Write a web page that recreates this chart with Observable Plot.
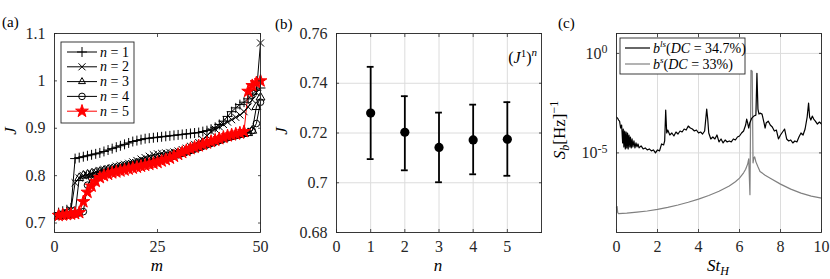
<!DOCTYPE html>
<html><head><meta charset="utf-8">
<script src="https://cdn.jsdelivr.net/npm/d3@7"></script>
<script src="https://cdn.jsdelivr.net/npm/@observablehq/plot@0.6"></script>
<style>
body{margin:0;background:#fff}
#wrap{position:relative;width:830px;height:279px;overflow:hidden;background:#fff;font-family:"Liberation Serif","DejaVu Serif",serif}
.panel{position:absolute;top:0}
#overlay{position:absolute;left:0;top:0;pointer-events:none}
</style></head><body><div id="wrap"></div>
<script>
// ---------- Panel (a) data ----------
const mIndex = d3.range(1, 51);
const J_n1 = [0.722,0.725,0.728,0.732,0.836,0.838,0.840,0.842,0.844,0.846,0.848,0.851,0.854,0.857,0.860,0.863,0.866,0.869,0.872,0.874,0.876,0.878,0.879,0.880,0.881,0.882,0.883,0.884,0.885,0.886,0.887,0.888,0.889,0.890,0.891,0.893,0.895,0.898,0.902,0.908,0.915,0.925,0.935,0.943,0.950,0.955,0.962,0.972,0.980,0.985];
const J_n2 = [0.716,0.718,0.720,0.728,0.785,0.795,0.800,0.802,0.805,0.808,0.811,0.813,0.815,0.817,0.820,0.822,0.824,0.826,0.829,0.832,0.835,0.838,0.841,0.844,0.846,0.847,0.848,0.849,0.850,0.852,0.855,0.858,0.862,0.866,0.870,0.876,0.884,0.893,0.898,0.903,0.908,0.913,0.918,0.923,0.928,0.935,0.945,0.960,0.975,1.080];
const J_n3 = [0.714,0.715,0.716,0.718,0.720,0.795,0.800,0.802,0.804,0.806,0.808,0.810,0.812,0.814,0.816,0.818,0.820,0.822,0.824,0.826,0.828,0.830,0.832,0.834,0.836,0.838,0.840,0.842,0.844,0.846,0.848,0.851,0.854,0.857,0.860,0.863,0.866,0.869,0.872,0.875,0.878,0.880,0.882,0.884,0.886,0.888,0.890,0.895,0.945,0.965];
const J_n4 = [0.716,0.717,0.718,0.719,0.720,0.722,0.724,0.780,0.795,0.800,0.803,0.806,0.808,0.810,0.812,0.814,0.816,0.818,0.820,0.822,0.824,0.826,0.828,0.830,0.832,0.834,0.836,0.838,0.841,0.844,0.847,0.850,0.853,0.856,0.859,0.862,0.865,0.868,0.871,0.874,0.877,0.880,0.883,0.885,0.887,0.889,0.891,0.895,0.910,0.955];
const J_n5 = [0.716,0.717,0.718,0.719,0.720,0.722,0.745,0.765,0.778,0.788,0.796,0.800,0.803,0.806,0.808,0.810,0.812,0.814,0.816,0.818,0.820,0.822,0.824,0.826,0.828,0.831,0.834,0.837,0.841,0.845,0.849,0.853,0.857,0.860,0.863,0.866,0.869,0.872,0.875,0.878,0.881,0.884,0.886,0.888,0.890,0.893,0.978,0.990,0.996,1.000];
const seriesA = [J_n1, J_n2, J_n3, J_n4, J_n5];
const seriesNames = ["1","2","3","4","5"];
const symbolsA = ["plus","times","triangle","circle","star"];
const colorsA = ["#000","#000","#000","#000","#ff0000"];
const xTicksA = [0, 25, 50];
const yTicksA = [0.7, 0.8, 0.9, 1, 1.1];

// ---------- Panel (b) data ----------
const nVals = [1, 2, 3, 4, 5];
const Jmean = [0.7280, 0.7203, 0.7142, 0.7172, 0.7175];
const Jhi   = [0.7466, 0.7348, 0.7282, 0.7314, 0.7324];
const Jlo   = [0.7095, 0.7050, 0.7002, 0.7034, 0.7028];
const xTicksB = [0, 1, 2, 3, 4, 5];
const yTicksB = [0.68, 0.70, 0.72, 0.74, 0.76];

// ---------- Panel (c) data (log10 of S_b) ----------
const St_ls = [0.00,0.05,0.10,0.15,0.20,0.25,0.30,0.33,0.36,0.40,0.43,0.47,0.50,0.54,0.57,0.61,0.65,0.68,0.72,0.76,0.80,0.85,0.90,0.95,1.00,1.05,1.10,1.20,1.30,1.40,1.50,1.60,1.70,1.80,1.90,2.00,2.10,2.20,2.30,2.35,2.40,2.45,2.50,2.60,2.70,2.80,2.90,3.00,3.10,3.20,3.30,3.40,3.50,3.60,3.70,3.80,3.90,4.00,4.10,4.20,4.30,4.40,4.45,4.50,4.60,4.70,4.80,4.90,5.00,5.10,5.20,5.30,5.40,5.50,5.60,5.70,5.80,5.90,6.00,6.10,6.20,6.30,6.35,6.40,6.45,6.50,6.60,6.70,6.80,6.85,6.90,6.95,7.00,7.10,7.20,7.25,7.30,7.40,7.50,7.60,7.70,7.80,7.90,8.00,8.10,8.20,8.30,8.40,8.50,8.60,8.70,8.80,8.90,9.00,9.10,9.20,9.30,9.37,9.42,9.48,9.55,9.62,9.70,9.80,9.90,10.0];
const logS_ls = [-3.2,-3.25,-3.35,-3.4,-3.75,-3.6,-4.5,-3.8,-4.7,-3.9,-4.8,-3.95,-4.75,-4.0,-4.8,-4.1,-4.7,-4.2,-4.75,-4.3,-4.7,-4.4,-4.75,-4.5,-4.7,-4.55,-4.75,-4.65,-4.8,-4.75,-4.85,-4.8,-4.9,-4.85,-5.0,-4.85,-4.9,-4.55,-4.6,-4.4,-2.85,-4.0,-3.85,-4.1,-4.0,-4.15,-3.95,-4.05,-3.9,-3.95,-3.8,-3.85,-3.65,-3.75,-3.8,-3.9,-3.85,-4.0,-3.95,-4.05,-3.9,-2.8,-3.3,-4.0,-4.3,-4.2,-4.3,-4.1,-4.45,-4.3,-4.5,-4.35,-4.45,-4.4,-4.45,-4.3,-4.35,-4.2,-4.15,-4.0,-3.9,-3.6,-3.3,-3.5,-3.75,-3.5,-3.25,-3.15,-3.1,-1.0,-2.8,-3.05,-3.0,-3.05,-3.5,-3.75,-3.5,-3.4,-3.6,-3.7,-3.9,-3.85,-4.3,-4.1,-3.95,-3.8,-4.3,-4.4,-4.35,-4.5,-4.4,-4.45,-4.2,-4.0,-4.1,-3.8,-3.2,-2.5,-3.2,-3.35,-3.15,-3.3,-3.4,-3.55,-3.45,-3.55];
const St_s = [0.00,0.03,0.06,0.10,0.50,1.00,1.50,2.00,2.50,3.00,3.50,4.00,4.50,5.00,5.50,5.80,6.00,6.20,6.30,6.40,6.45,6.51,6.56,6.62,6.66,6.70,6.74,6.80,6.90,7.00,7.25,7.50,8.00,8.50,9.00,9.50,10.0];
const logS_s = [-7.75,-7.7,-8.0,-8.05,-8.03,-7.98,-7.92,-7.84,-7.74,-7.62,-7.48,-7.32,-7.14,-6.93,-6.66,-6.45,-6.27,-6.0,-5.82,-5.55,-5.3,-7.1,-0.85,-0.9,-5.5,-5.25,-5.2,-5.45,-5.7,-5.93,-6.12,-6.27,-6.57,-6.82,-7.02,-7.17,-7.27];
const xTicksC = [0, 2, 4, 6, 8, 10];
const yTicksC = [1e-5, 1];

// ---------- helpers ----------
const FONT = '"Liberation Serif", "DejaVu Serif", serif';
const AX = "#262626";
const baseStyle = {fontFamily: FONT, fontSize: "16px", color: AX, background: "white", overflow: "visible"};
const numFmt = d => String(+d.toFixed(3));
function boxAxes(xt, yt, opts = {}) {
  return [
    Plot.axisX({anchor: "bottom", ticks: xt, tickSize: -3, tickPadding: 11, tickFormat: opts.xf || numFmt, stroke: AX, strokeWidth: 0.8}),
    Plot.axisX({anchor: "top", ticks: xt, tickSize: -3, tickFormat: () => "", stroke: AX, strokeWidth: 0.8}),
    Plot.axisY({anchor: "left", ticks: yt, tickSize: -3, tickPadding: 12, tickFormat: opts.yf || numFmt, stroke: AX, strokeWidth: 0.8}),
    Plot.axisY({anchor: "right", ticks: yt, tickSize: -3, tickFormat: () => "", stroke: AX, strokeWidth: 0.8})
  ];
}
const wrap = document.getElementById("wrap");
function place(el, left) { el.classList.add("panel"); el.style.left = left + "px"; wrap.appendChild(el); return el; }

// ---------- Panel (a) ----------
const marksA = [];
seriesA.forEach((vals, i) => {
  marksA.push(Plot.line(vals, {x: (d, j) => mIndex[j], y: d => d, stroke: colorsA[i], strokeWidth: 1}));
});
seriesA.forEach((vals, i) => {
  marksA.push(Plot.dot(vals, {x: (d, j) => mIndex[j], y: d => d, symbol: symbolsA[i], r: i === 4 ? 4 : 3.3,
    stroke: colorsA[i], fill: i === 4 ? colorsA[i] : "none", strokeWidth: 1}));
});
const plotA = Plot.plot({
  width: 270, height: 279, marginLeft: 54, marginRight: 10, marginTop: 33, marginBottom: 47,
  style: baseStyle,
  x: {domain: [0, 50], label: null},
  y: {domain: [0.68, 1.1], label: null},
  marks: [...marksA, Plot.frame({stroke: AX, strokeWidth: 0.9}), ...boxAxes(xTicksA, yTicksA)]
});
place(plotA, 0);

// ---------- Panel (b) ----------
const rowsB = nVals.map((n, i) => ({n, mean: Jmean[i], hi: Jhi[i], lo: Jlo[i]}));
const plotB = Plot.plot({
  width: 280, height: 279, marginLeft: 66, marginRight: 9, marginTop: 33, marginBottom: 47,
  style: baseStyle,
  x: {domain: [0, 6], label: null},
  y: {domain: [0.68, 0.76], label: null},
  marks: [
    Plot.gridX(xTicksB, {stroke: "#dcdcdc", strokeOpacity: 1}),
    Plot.gridY(yTicksB, {stroke: "#dcdcdc", strokeOpacity: 1}),
    Plot.ruleX(rowsB, {x: "n", y1: "lo", y2: "hi", stroke: "#000", strokeWidth: 1.8}),
    Plot.ruleY(rowsB, {y: "hi", x1: d => d.n - 0.1, x2: d => d.n + 0.1, stroke: "#000", strokeWidth: 1.8}),
    Plot.ruleY(rowsB, {y: "lo", x1: d => d.n - 0.1, x2: d => d.n + 0.1, stroke: "#000", strokeWidth: 1.8}),
    Plot.dot(rowsB, {x: "n", y: "mean", r: 4.6, fill: "#000"}),
    Plot.frame({stroke: AX, strokeWidth: 0.9}),
    ...boxAxes(xTicksB, yTicksB)
  ]
});
place(plotB, 270);

// ---------- Panel (c) ----------
const rowsLs = St_ls.map((s, i) => ({St: s, S: Math.pow(10, logS_ls[i])}));
const rowsS = St_s.map((s, i) => ({St: s, S: Math.pow(10, logS_s[i])}));
const plotC = Plot.plot({
  width: 280, height: 279, marginLeft: 66, marginRight: 9, marginTop: 33, marginBottom: 47,
  style: baseStyle,
  x: {domain: [0, 10], label: null},
  y: {type: "log", domain: [1e-9, 10], label: null},
  marks: [
    Plot.gridX(xTicksC, {stroke: "#dcdcdc", strokeOpacity: 1}),
    Plot.gridY(yTicksC, {stroke: "#dcdcdc", strokeOpacity: 1}),
    Plot.line(rowsS, {x: "St", y: "S", stroke: "#808080", strokeWidth: 1.2}),
    Plot.line(rowsLs, {x: "St", y: "S", stroke: "#000", strokeWidth: 1.2}),
    Plot.frame({stroke: AX, strokeWidth: 0.9}),
    ...boxAxes(xTicksC, yTicksC, {yf: d => (d === 1 ? "10|0" : "10|-5")})
  ]
});
place(plotC, 550);
// superscript tick labels
d3.select(plotC).selectAll('g[aria-label="y-axis tick label"] text').each(function() {
  const t = d3.select(this); const [b, e] = t.text().split("|");
  t.text(null); t.append("tspan").text(b);
  t.append("tspan").attr("dy", "-0.45em").attr("font-size", "12px").text(e);
});

// ---------- Overlay: labels & legends ----------
const ov = d3.select(wrap).append("svg").attr("id", "overlay").attr("width", 830).attr("height", 279)
  .attr("font-family", FONT).style("font-family", FONT).attr("fill", "#000");
[["(a)", 2, 27], ["(b)", 275, 29], ["(c)", 558, 28]].forEach(([t, x, y]) =>
  ov.append("text").attr("x", x).attr("y", y).attr("font-size", 15).text(t));
function italic(x, y, txt, size = 17) { return ov.append("text").attr("x", x).attr("y", y).attr("font-size", size).attr("font-style", "italic").attr("text-anchor", "middle").text(txt); }
italic(157, 271, "m");
italic(438, 271, "n");
const stl = ov.append("text").attr("x", 718).attr("y", 271).attr("font-size", 17).attr("text-anchor", "middle").attr("font-style", "italic");
stl.append("tspan").text("St"); stl.append("tspan").attr("font-size", 12).attr("dy", 4).text("H");
ov.append("text").attr("transform", "translate(16,131) rotate(-90)").attr("font-size", 17).attr("font-style", "italic").attr("text-anchor", "middle").text("J");
ov.append("text").attr("transform", "translate(287,131) rotate(-90)").attr("font-size", 17).attr("font-style", "italic").attr("text-anchor", "middle").text("J");
const sl = ov.append("text").attr("transform", "translate(565,130) rotate(-90)").attr("font-size", 17).attr("text-anchor", "middle");
sl.append("tspan").attr("font-style", "italic").text("S");
sl.append("tspan").attr("font-style", "italic").attr("font-size", 12).attr("dy", 4).text("b");
sl.append("tspan").attr("dy", -4).text("[Hz]");
sl.append("tspan").attr("font-size", 12).attr("dy", -7).text("−1");
const jn = ov.append("text").attr("x", 537).attr("y", 63).attr("font-size", 16).attr("text-anchor", "end");
jn.append("tspan").text("(");
jn.append("tspan").attr("font-style", "italic").text("J");
jn.append("tspan").attr("font-size", 11).attr("dy", -6).text("1");
jn.append("tspan").attr("dy", 6).text(")");
jn.append("tspan").attr("font-size", 11).attr("font-style", "italic").attr("dy", -7).text("n");

// legend (a)
ov.append("rect").attr("x", 61).attr("y", 42).attr("width", 73).attr("height", 81).attr("fill", "white").attr("stroke", AX).attr("stroke-width", 0.9);
const symMap = {plus: d3.symbolPlus, times: d3.symbolTimes, triangle: d3.symbolTriangle2, circle: d3.symbolCircle, star: d3.symbolStar};
seriesNames.forEach((nm, i) => {
  const y = 52 + i * 14.8;
  ov.append("line").attr("x1", 67).attr("x2", 97).attr("y1", y).attr("y2", y).attr("stroke", colorsA[i]).attr("stroke-width", 1);
  const r = i === 4 ? 4 : 3.3;
  ov.append("path").attr("d", d3.symbol(symMap[symbolsA[i]], Math.PI * r * r)()).attr("transform", `translate(82,${y})`)
    .attr("stroke", colorsA[i]).attr("fill", i === 4 ? colorsA[i] : "none").attr("stroke-width", 1);
  const t = ov.append("text").attr("x", 100).attr("y", y + 4.5).attr("font-size", 14);
  t.append("tspan").attr("font-style", "italic").text("n");
  t.append("tspan").text(" = " + nm);
});
// legend (c)
ov.append("rect").attr("x", 620).attr("y", 38).attr("width", 125).attr("height", 36).attr("fill", "white").attr("stroke", AX).attr("stroke-width", 0.9);
[["#000", "ls", "34.7%"], ["#808080", "s", "33%"]].forEach(([c, sup, dc], i) => {
  const y = 48 + i * 16;
  ov.append("line").attr("x1", 625).attr("x2", 650).attr("y1", y).attr("y2", y).attr("stroke", c).attr("stroke-width", 1.2);
  const t = ov.append("text").attr("x", 653).attr("y", y + 4.5).attr("font-size", 14);
  t.append("tspan").attr("font-style", "italic").text("b");
  t.append("tspan").attr("font-style", "italic").attr("font-size", 9).attr("dy", -6).text(sup);
  t.append("tspan").attr("dy", 6).text("(");
  t.append("tspan").attr("font-style", "italic").text("DC");
  t.append("tspan").text(" = " + dc + ")");
});
</script></body></html>
